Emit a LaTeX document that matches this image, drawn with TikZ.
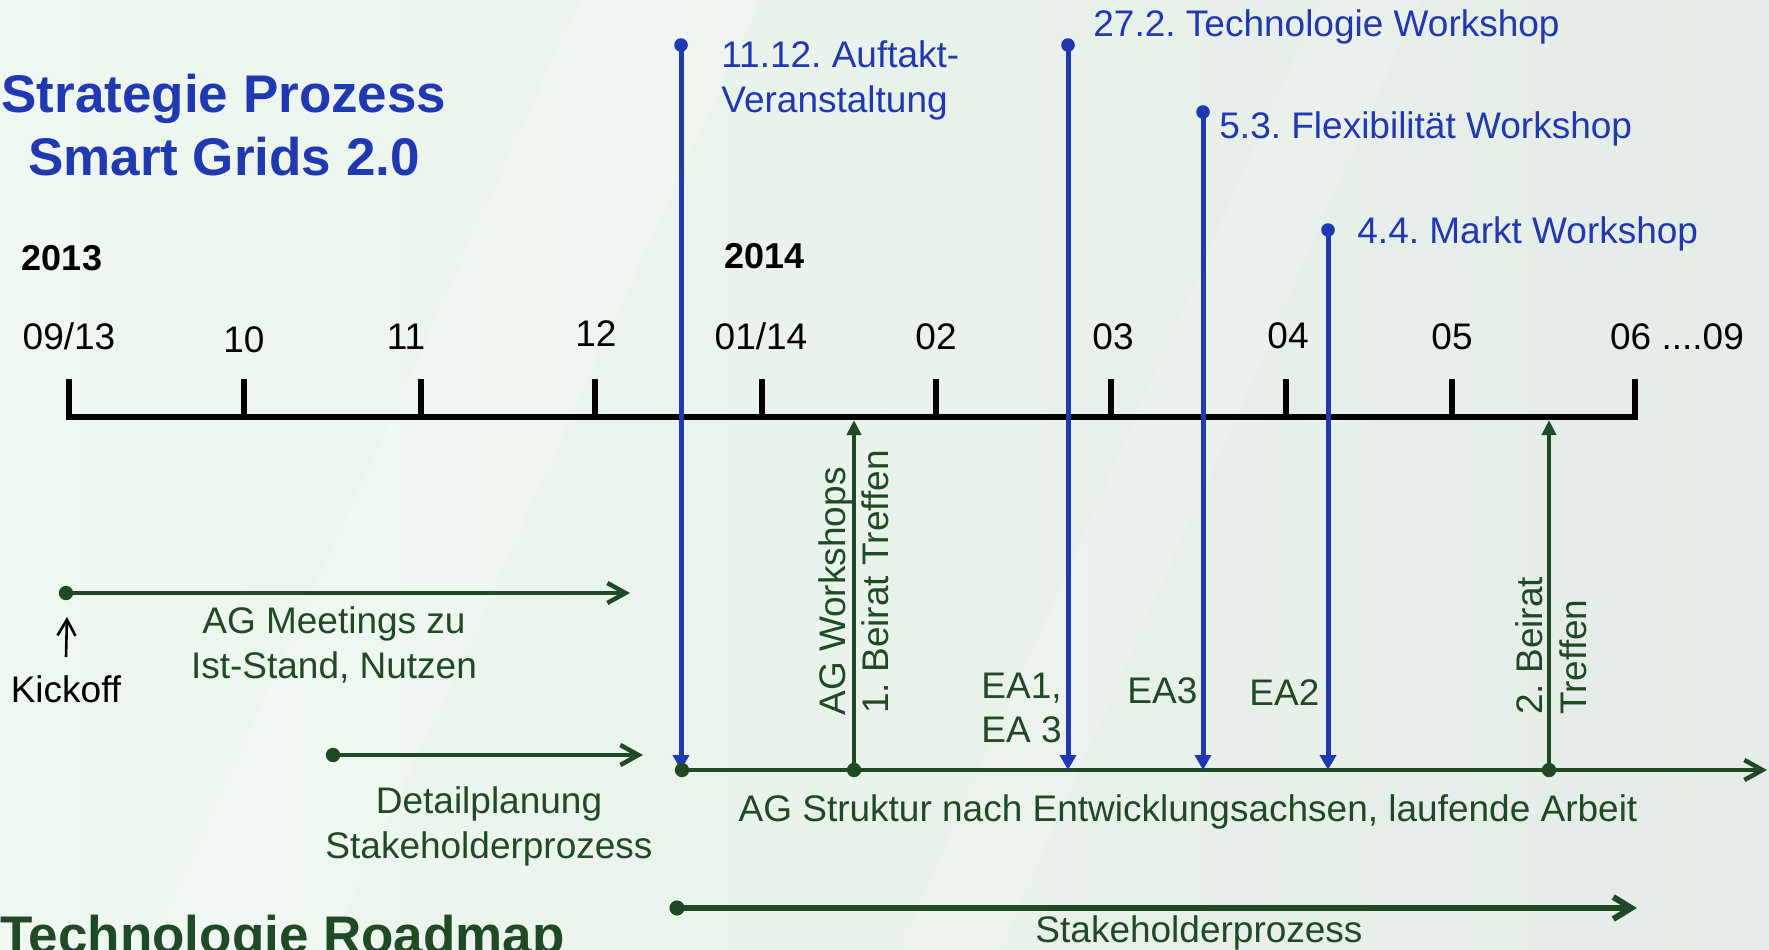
\documentclass[tikz,border=0pt]{standalone}
\usepackage{fontspec}
\setmainfont{Liberation Sans}
\usetikzlibrary{arrows.meta}
\definecolor{evblue}{RGB}{32,56,176}
\definecolor{evgreen}{RGB}{31,74,37}
\definecolor{bgA}{RGB}{238,247,240}
\definecolor{bgB}{RGB}{229,236,231}
\frenchspacing
\begin{document}
\begin{tikzpicture}[x=0.5pt,y=-0.5pt,
  lbl/.style={inner sep=0pt, font=\fontsize{18.5}{22}\selectfont},
  lblb/.style={inner sep=0pt, font=\fontsize{18}{22}\selectfont\bfseries},
  titletxt/.style={inner sep=0pt, font=\fontsize{26.5}{32}\selectfont\bfseries},
  bluetxt/.style={lbl, text=evblue, anchor=base west},
  greentxt/.style={lbl, text=evgreen},
  ticklbl/.style={lbl, anchor=base},
  rottxt/.style={lbl, text=evgreen, rotate=90, anchor=base west},
  axisline/.style={black, line width=3.25pt},
  evline/.style={evblue, line width=2.5pt, -{Triangle[length=7.5pt,width=8pt]}},
  upline/.style={evgreen, line width=2pt, -{Triangle[length=7.5pt,width=7pt]}},
  flow/.style={evgreen, line width=2.25pt, -{Straight Barb[length=9pt,width=10pt]}},
  bigflow/.style={evgreen, line width=3pt, -{Straight Barb[length=9pt,width=11pt]}},
  kickarrow/.style={black, line width=1.3pt, -{Straight Barb[length=8pt,width=9pt]}}
]
% background
\shade[left color=bgA, right color=bgB] (0,0) rectangle (1769,949);
\fill[white, opacity=0.2] (150,949) -- (330,949) -- (760,0) -- (580,0) -- cycle;
\fill[white, opacity=0.15] (900,949) -- (1000,949) -- (1420,0) -- (1320,0) -- cycle;
\useasboundingbox (0,0) rectangle (1769,949);

% title
\node[titletxt, text=evblue, anchor=base] (title1) at (224,112) {Strategie Prozess};
\node[titletxt, text=evblue, anchor=base] (title2) at (224,175) {Smart Grids 2.0};
\node[titletxt, text=evgreen, anchor=base west] (roadmap) at (0,953) {Technologie Roadmap};

% years
\node[lblb, anchor=base] (y2013) at (62,270) {2013};
\node[lblb, anchor=base west] (y2014) at (724,268) {2014};

% axis
\coordinate (ax0) at (69,417);
\coordinate (ax1) at (1635,417);
\coordinate (ax0t) at (69,379);
\coordinate (ax1t) at (1635,379);
\draw[axisline, line join=miter] (ax0t) -- (ax0) -- (ax1) -- (ax1t);
\foreach \x/\n in {244/a,421/b,595/c,762/d,936/e,1111/f,1286/g,1452/h}{
  \coordinate (tk\n) at (\x,417);
  \coordinate (tt\n) at (\x,379);
  \draw[axisline] (tt\n) -- (tk\n);
}

% tick labels
\node[ticklbl] (l0913) at (69,349) {09/13};
\node[ticklbl] (l10) at (244,352) {10};
\node[ticklbl] (l11) at (406,349) {11};
\node[ticklbl] (l12) at (596,346) {12};
\node[ticklbl] (l0114) at (761,349) {01/14};
\node[ticklbl] (l02) at (936,349) {02};
\node[ticklbl] (l03) at (1113,349) {03};
\node[ticklbl] (l04) at (1288,348) {04};
\node[ticklbl] (l05) at (1452,349) {05};
\node[ticklbl] (l06) at (1677,349) {06 ....09};

% event labels (blue)
\node[bluetxt] (ev1a) at (721,67) {11.12. Auftakt-};
\node[bluetxt] (ev1b) at (721,112) {Veranstaltung};
\node[bluetxt] (ev2) at (1093,36) {27.2. Technologie Workshop};
\node[bluetxt] (ev3) at (1219,138) {5.3. Flexibilität Workshop};
\node[bluetxt] (ev4) at (1357,243) {4.4. Markt Workshop};

% bottom work line
\coordinate (w0) at (682,770);
\coordinate (w1) at (854,770);
\coordinate (w2) at (1549,770);
\coordinate (wend) at (1767,770);
\draw[flow] (w0) -- (wend);

% blue event lines
\coordinate (b1t) at (681,45);  \coordinate (b1b) at (681,770);
\coordinate (b2t) at (1068,45); \coordinate (b2b) at (1068,770);
\coordinate (b3t) at (1203,112); \coordinate (b3b) at (1203,770);
\coordinate (b4t) at (1328,230); \coordinate (b4b) at (1328,770);
\foreach \n in {1,2,3,4}{
  \draw[evline] (b\n t) -- (b\n b);
  \fill[evblue] (b\n t) circle (3.4pt);
}

% green vertical arrows (Beirat)
\coordinate (g1t) at (854,420);
\coordinate (g2t) at (1549,420);
\draw[upline] (w1) -- (g1t);
\draw[upline] (w2) -- (g2t);
\foreach \c in {w0,w1,w2}{\fill[evgreen] (\c) circle (3.6pt);}

\node[greentxt, anchor=base] (struktur) at (1188,821) {AG Struktur nach Entwicklungsachsen, laufende Arbeit};

% AG meetings
\coordinate (m0) at (66,593);
\coordinate (m1) at (630,593);
\draw[flow] (m0) -- (m1);
\fill[evgreen] (m0) circle (3.6pt);
\node[greentxt, anchor=base] (mtxt1) at (334,633) {AG Meetings zu};
\node[greentxt, anchor=base] (mtxt2) at (334,678) {Ist-Stand, Nutzen};

% kickoff
\node[lbl, anchor=base] (kick) at (66,702) {Kickoff};
\coordinate (k1) at (67,617);
\draw[kickarrow] (kick.north |- 0,657) -- (k1);

% Detailplanung
\coordinate (d0) at (333,755);
\coordinate (d1) at (643,755);
\draw[flow] (d0) -- (d1);
\fill[evgreen] (d0) circle (3.6pt);
\node[greentxt, anchor=base] (dtxt1) at (489,813) {Detailplanung};
\node[greentxt, anchor=base] (dtxt2) at (489,858) {Stakeholderprozess};

% Stakeholderprozess
\coordinate (s0) at (677,908);
\coordinate (s1) at (1637,908);
\draw[bigflow] (s0) -- (s1);
\fill[evgreen] (s0) circle (3.8pt);
\node[greentxt, anchor=base] (stxt) at (1199,942) {Stakeholderprozess};

% EA labels
\node[greentxt, anchor=base west] (ea1a) at (981,698) {EA1,};
\node[greentxt, anchor=base west] (ea1b) at (981,742) {EA 3};
\node[greentxt, anchor=base west] (ea3) at (1127,703) {EA3};
\node[greentxt, anchor=base west] (ea2) at (1249,705) {EA2};

% rotated labels
\node[rottxt] (agw) at (845,716) {AG Workshops};
\node[rottxt] (br1) at (888,714) {1. Beirat Treffen};
\node[rottxt] (br2a) at (1542,715) {2. Beirat};
\node[rottxt] (br2b) at (1586,715) {Treffen};
\end{tikzpicture}
\end{document}
